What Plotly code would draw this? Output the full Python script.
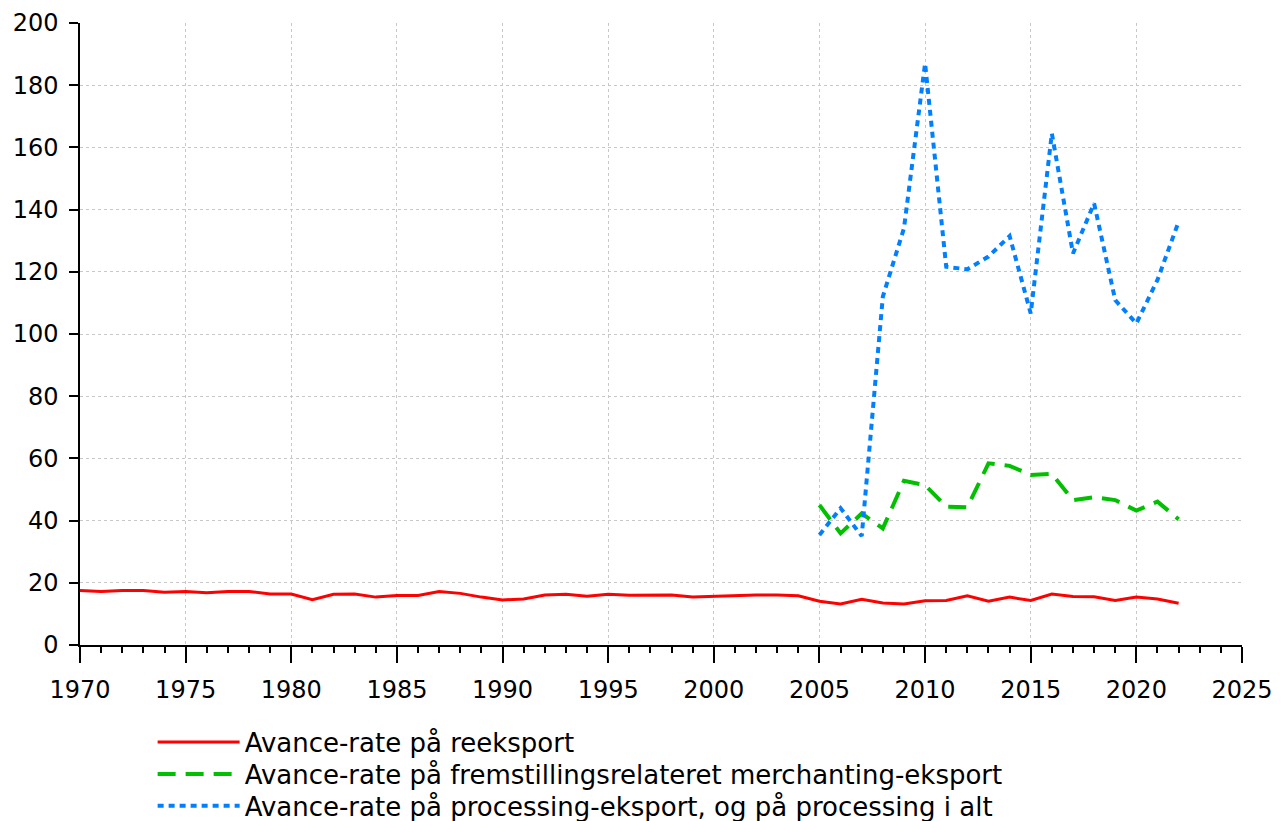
import plotly.graph_objects as go

years_red = list(range(1970, 2023))
reeksport = [17.5, 17.2, 17.5, 17.5, 17.0, 17.2, 16.8, 17.2, 17.2, 16.4,
             16.4, 14.6, 16.3, 16.4, 15.4, 15.9, 15.9, 17.2, 16.6, 15.4,
             14.5, 14.8, 16.1, 16.3, 15.7, 16.3, 16.0, 16.1, 16.1, 15.4,
             15.7, 16.0, 16.1, 16.1, 15.8, 14.1, 13.2, 14.7, 13.5, 13.2,
             14.2, 14.3, 15.8, 14.1, 15.4, 14.3, 16.4, 15.6, 15.5, 14.3,
             15.4, 14.8, 13.4]

years_new = list(range(2005, 2023))
merchanting = [45.0, 35.9, 42.3, 37.5, 52.8, 51.4, 44.5, 44.3, 58.4, 57.6,
               54.7, 55.0, 46.6, 47.5, 46.6, 43.2, 46.1, 40.4]
processing = [35.4, 44.0, 35.0, 112.0, 134.0, 187.0, 121.6, 120.8, 124.9, 131.5,
              106.6, 164.5, 125.9, 142.0, 110.9, 103.4, 117.4, 136.1]

names = ["Avance-rate på reeksport",
         "Avance-rate på fremstillingsrelateret merchanting-eksport",
         "Avance-rate på processing-eksport, og på processing i alt"]

x_ticks = list(range(1970, 2026, 5))
y_ticks = list(range(0, 201, 20))

FONT = "DejaVu Sans"

fig = go.Figure()
fig.add_trace(go.Scatter(x=years_red, y=reeksport, mode="lines", name=names[0],
                         line=dict(color="#ff0000", width=3), legend="legend"))
fig.add_trace(go.Scatter(x=years_new, y=merchanting, mode="lines", name=names[1],
                         line=dict(color="#00c000", width=4, dash="18px,10px"),
                         legend="legend2"))
fig.add_trace(go.Scatter(x=years_new, y=processing, mode="lines", name=names[2],
                         line=dict(color="#0080ff", width=4, dash="6px,5px"),
                         legend="legend3"))

leg_common = dict(orientation="v", x=0.0625, xanchor="left", yanchor="middle",
                  font=dict(family=FONT, size=26), itemwidth=82,
                  bgcolor="rgba(0,0,0,0)", borderwidth=0)

fig.update_layout(
    width=1274, height=813,
    margin=dict(l=72, r=40, t=15, b=176, autoexpand=False),
    paper_bgcolor="white", plot_bgcolor="white",
    font=dict(family=FONT, size=24, color="black"),
    showlegend=True,
    legend=dict(leg_common, y=-0.156),
    legend2=dict(leg_common, y=-0.2074),
    legend3=dict(leg_common, y=-0.2588),
)
fig.update_xaxes(range=[1970, 2025], tickvals=x_ticks, ticks="outside", ticklen=16,
                 tickcolor="black", tickwidth=1.5, showline=True, linecolor="black",
                 linewidth=1.5, showgrid=True, gridcolor="#c8c8c8", griddash="dot",
                 gridwidth=1, zeroline=False, tickfont=dict(size=24), automargin=False,
                 ticklabelstandoff=6,
                 minor=dict(dtick=1, ticks="outside", ticklen=6, tickcolor="black",
                            showgrid=False))
fig.update_yaxes(range=[0, 200], tickvals=y_ticks, ticks="outside", ticklen=9,
                 tickcolor="black", tickwidth=1.5, showline=True, linecolor="black",
                 linewidth=1.5, showgrid=True, gridcolor="#c8c8c8", griddash="dot",
                 gridwidth=1, zeroline=False, tickfont=dict(size=24), automargin=False,
                 ticklabelstandoff=6)

fig.write_html("out.html")
